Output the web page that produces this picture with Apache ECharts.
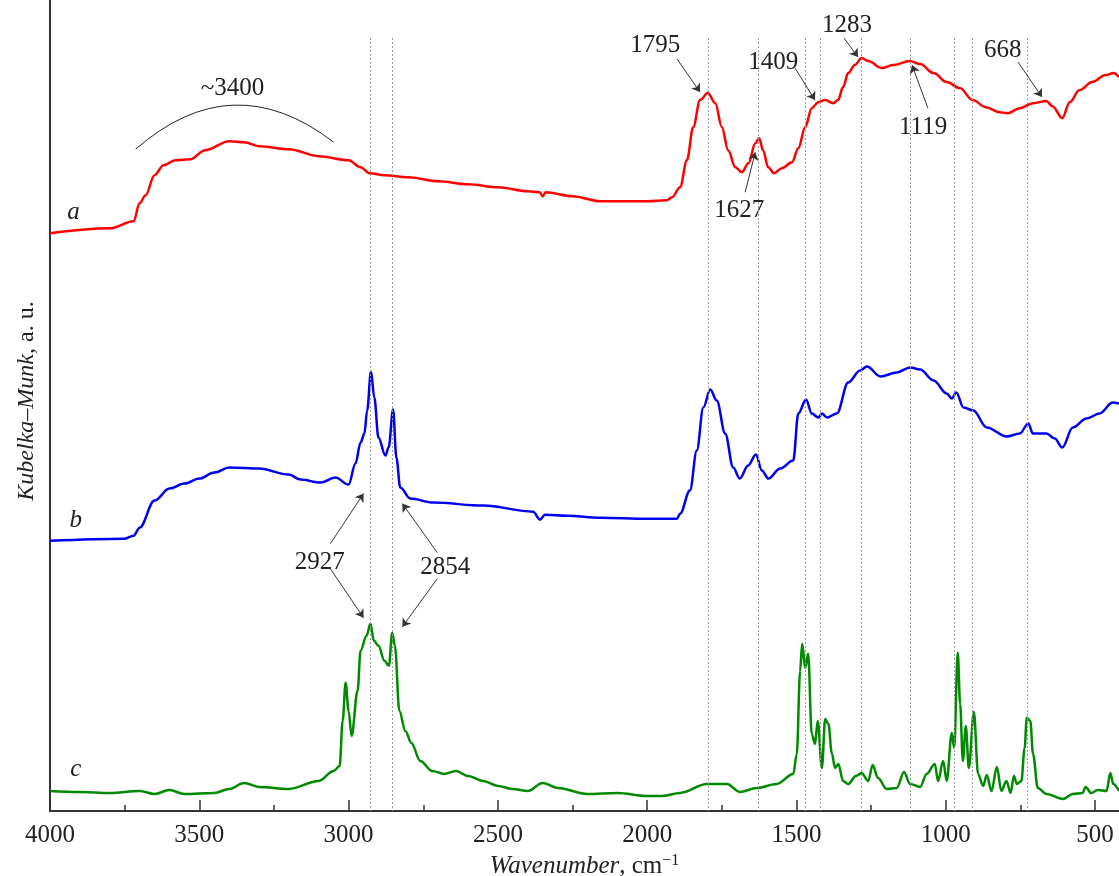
<!DOCTYPE html>
<html>
<head>
<meta charset="utf-8">
<script src="https://cdn.jsdelivr.net/npm/echarts@6/dist/echarts.min.js"></script>
<style>
html, body { margin: 0; padding: 0; background: #fff; }
#main { width: 1119px; height: 876px; }
</style>
</head>
<body>
<div id="main"></div>
<script>
// spectra: [wavenumber, Kubelka-Munk (a.u., offset per curve)]
var specA = [
  [4000,577],[3800,582],[3720,589],[3700,607],[3680,615],[3650,635],[3620,645],[3580,650],[3530,651],
  [3480,660],[3400,669],[3350,668],[3300,664],[3200,661],[3100,654],[3000,650],[2960,643],[2930,637],
  [2880,635],[2800,633],[2700,629],[2600,626],[2500,623],[2400,619],[2360,618],[2350,614],[2340,618],
  [2250,614],[2157,609],[2000,609],[1934,610],[1917,613],[1890,623],[1867,650],[1846,683],[1823,710],
  [1797,717],[1772,707],[1750,683],[1729,660],[1705,643],[1683,638],[1661,647],[1638,667],[1625,672],
  [1612,660],[1595,643],[1575,637],[1549,642],[1515,648],[1494,662],[1471,683],[1449,702],[1427,708],
  [1404,710],[1377,707],[1361,710],[1344,723],[1327,737],[1305,745],[1282,752],[1260,749],[1215,742],
  [1177,745],[1120,749],[1086,746],[1041,737],[997,728],[953,722],[910,710],[866,703],[821,698],
  [792,697],[752,702],[708,707],[663,709],[643,704],[610,692],[585,708],[552,720],[510,728],[465,735],
  [438,737],[420,733]
];
var specB = [
  [4000,270],[3750,272],[3720,275],[3700,283],[3650,310],[3600,322],[3550,327],[3500,332],[3450,338],
  [3400,343],[3300,342],[3200,336],[3161,331],[3094,328],[3044,333],[3000,326],[2977,347],[2960,368],
  [2947,377],[2938,400],[2925,439],[2914,413],[2900,373],[2877,355],[2866,363],[2851,401],[2840,353],
  [2827,323],[2793,312],[2716,308],[2549,305],[2382,299],[2359,291],[2342,296],[2269,295],[2157,293],
  [2000,292],[1900,292],[1890,297],[1857,320],[1834,360],[1812,403],[1789,421],[1767,410],[1739,377],
  [1712,343],[1690,332],[1662,345],[1636,356],[1616,340],[1594,332],[1555,342],[1511,350],[1494,397],
  [1468,411],[1449,397],[1427,393],[1415,397],[1398,393],[1365,397],[1327,428],[1287,440],[1264,444],
  [1219,434],[1164,438],[1119,443],[1086,441],[1041,430],[997,417],[980,412],[965,418],[941,403],
  [908,400],[863,383],[796,374],[752,377],[724,387],[708,377],[663,377],[635,372],[610,363],[575,383],
  [529,392],[485,397],[441,408],[420,407]
];
var specC = [
  [4000,20],[3900,19],[3800,18],[3700,20],[3650,17],[3600,21],[3550,17],[3450,18],[3400,22],[3350,28],
  [3300,24],[3200,22],[3100,30],[3050,40],[3030,45],[3020,90],[3010,128],[3000,100],[2990,75],[2970,120],
  [2960,160],[2940,175],[2927,187],[2915,170],[2900,165],[2880,150],[2865,145],[2854,178],[2845,165],
  [2830,100],[2810,80],[2790,68],[2760,50],[2720,40],[2680,37],[2640,40],[2600,35],[2550,30],[2500,25],
  [2450,22],[2400,20],[2350,28],[2300,23],[2200,17],[2100,18],[2000,15],[1950,15],[1890,18],[1800,27],
  [1733,27],[1690,19],[1633,23],[1566,27],[1511,37],[1499,57],[1488,140],[1481,167],[1471,143],
  [1461,157],[1449,77],[1438,67],[1429,90],[1415,43],[1404,92],[1393,87],[1382,58],[1371,43],[1360,47],
  [1344,30],[1327,27],[1301,35],[1282,38],[1260,30],[1245,46],[1227,33],[1198,22],[1164,23],[1140,39],
  [1120,27],[1086,24],[1064,37],[1037,47],[1026,30],[1009,50],[997,30],[980,78],[972,63],[960,158],
  [952,107],[943,50],[933,85],[923,43],[906,99],[892,37],[875,25],[863,36],[847,20],[829,44],[814,20],
  [797,30],[783,18],[772,35],[762,27],[747,30],[736,63],[729,93],[717,90],[708,57],[692,23],[663,17],
  [608,12],[575,17],[542,18],[532,24],[513,18],[491,21],[462,20],[449,38],[439,27],[420,20]
];

var tickLabels = [4000, 3500, 3000, 2500, 2000, 1500, 1000, 500];
var minorTicks = [3750, 3250, 2750, 2250, 1750, 1250, 750];
var guideLines = [2927, 2854, 1795, 1627, 1472, 1421, 1283, 1119, 972, 911, 727];
var guideTop = 772;

// annotation texts: [text, wavenumber, value]
var peakLabels = [
  ['~3400', 3389, 722], ['1795', 1973, 765], ['1627', 1692, 600], ['1409', 1578, 748],
  ['1283', 1331, 785], ['1119', 1076, 683], ['668', 809, 760], ['2927', 3097, 248], ['2854', 2676, 243]
];
var arrows = [
  [[1900, 751], [1823, 718]], [[1672, 618], [1638, 658]], [[1505, 742], [1438, 710]],
  [[1341, 772], [1294, 753]], [[1060, 702], [1113, 745]], [[758, 748], [678, 713]],
  [[3061, 267], [2950, 317]], [[3061, 242], [2950, 193]], [[2703, 258], [2820, 307]], [[2703, 232], [2820, 184]]
];
var curveNames = [['a', 3921, 598], ['b', 3914, 290], ['c', 3914, 42]];
var bracket = [[3713, 661], [3385, 705], [3050, 668]];

var serif = '"Liberation Serif", "Times New Roman", serif';
var chart = echarts.init(document.getElementById('main'));

function spectrum(data, color) {
  return { type: 'line', data: data, showSymbol: false, smooth: 0.35, smoothMonotone: 'x',
    lineStyle: { color: color, width: 2.5 } };
}

var option = {
  animation: false,
  grid: { left: 50, right: 0, top: 0, bottom: 65, outerBoundsMode: 'none', containLabel: false },
  xAxis: [{
    type: 'value', inverse: true, min: 420, max: 4000,
    name: '{i|Wavenumber}{r|, cm}{s|−1}',
    nameLocation: 'middle', nameGap: 35,
    nameTextStyle: {
      rich: {
        i: { fontFamily: serif, fontStyle: 'italic', fontSize: 25, lineHeight: 28, color: '#222' },
        r: { fontFamily: serif, fontSize: 25, lineHeight: 28, color: '#222' },
        s: { fontFamily: serif, fontSize: 16, lineHeight: 28, color: '#222', verticalAlign: 'top' }
      }
    },
    axisLine: { show: true, onZero: false, lineStyle: { color: '#333', width: 2 } },
    axisTick: { show: true, inside: true, length: 11, customValues: tickLabels, lineStyle: { color: '#333', width: 1.5 } },
    axisLabel: { customValues: tickLabels, margin: 12, fontFamily: serif, fontSize: 25, color: '#222',
      formatter: function (v) { return String(v); } },
    splitLine: { show: false }
  }, {
    type: 'value', inverse: true, min: 420, max: 4000, position: 'bottom',
    axisLine: { show: false },
    axisTick: { show: true, inside: true, length: 6, customValues: minorTicks, lineStyle: { color: '#333', width: 1.5 } },
    axisLabel: { show: false },
    splitLine: { show: false }
  }],
  yAxis: {
    type: 'value', min: 0, max: 810,
    axisLine: { show: true, lineStyle: { color: '#333', width: 2 } },
    axisTick: { show: false },
    axisLabel: { show: false },
    splitLine: { show: false }
  },
  series: [
    spectrum(specA, '#ff0000'),
    spectrum(specB, '#0000f0'),
    spectrum(specC, '#008a00'),
    {
      type: 'line', data: [], silent: true,
      markLine: {
        silent: true, symbol: 'none', label: { show: false },
        lineStyle: { color: '#999', width: 1, type: [2, 2] },
        data: guideLines.map(function (w) { return [{ coord: [w, guideTop] }, { coord: [w, 0] }]; })
      }
    },
    {
      type: 'line', data: [], silent: true,
      markLine: {
        silent: true, symbol: ['none', 'arrow'], symbolSize: 8, label: { show: false },
        lineStyle: { color: '#333', width: 1, type: 'solid' },
        data: arrows.map(function (a) { return [{ coord: a[0] }, { coord: a[1] }]; })
      }
    }
  ]
};
chart.setOption(option);

function px(p) { return chart.convertToPixel({ xAxisIndex: 0, yAxisIndex: 0 }, p); }
var g = [];
peakLabels.forEach(function (p) {
  var pt = px([p[1], p[2]]);
  g.push({ type: 'text', x: pt[0], y: pt[1], style: {
    text: p[0], fontFamily: serif, fontSize: 25, fill: '#222',
    align: 'center', verticalAlign: 'middle', textAlign: 'center', textVerticalAlign: 'middle' } });
});
curveNames.forEach(function (p) {
  var pt = px([p[1], p[2]]);
  g.push({ type: 'text', x: pt[0], y: pt[1], style: {
    text: p[0], fontFamily: serif, fontStyle: 'italic', fontSize: 25, fill: '#222',
    align: 'center', verticalAlign: 'middle', textAlign: 'center', textVerticalAlign: 'middle' } });
});
var b0 = px(bracket[0]), b1 = px(bracket[1]), b2 = px(bracket[2]);
g.push({ type: 'bezierCurve', shape: {
  x1: b0[0], y1: b0[1], x2: b2[0], y2: b2[1],
  cpx1: 2 * b1[0] - (b0[0] + b2[0]) / 2, cpy1: 2 * b1[1] - (b0[1] + b2[1]) / 2 },
  style: { stroke: '#222', fill: null, lineWidth: 1 } });
g.push({ type: 'text', x: 27, y: 401, rotation: Math.PI / 2, style: {
  text: '{i|Kubelka–Munk}{r|, a. u.}',
  align: 'center', verticalAlign: 'middle', textAlign: 'center', textVerticalAlign: 'middle',
  rich: {
    i: { fontFamily: serif, fontStyle: 'italic', fontSize: 24, fill: '#222' },
    r: { fontFamily: serif, fontSize: 24, fill: '#222' }
  } } });
chart.setOption({ graphic: g });
</script>
</body>
</html>
